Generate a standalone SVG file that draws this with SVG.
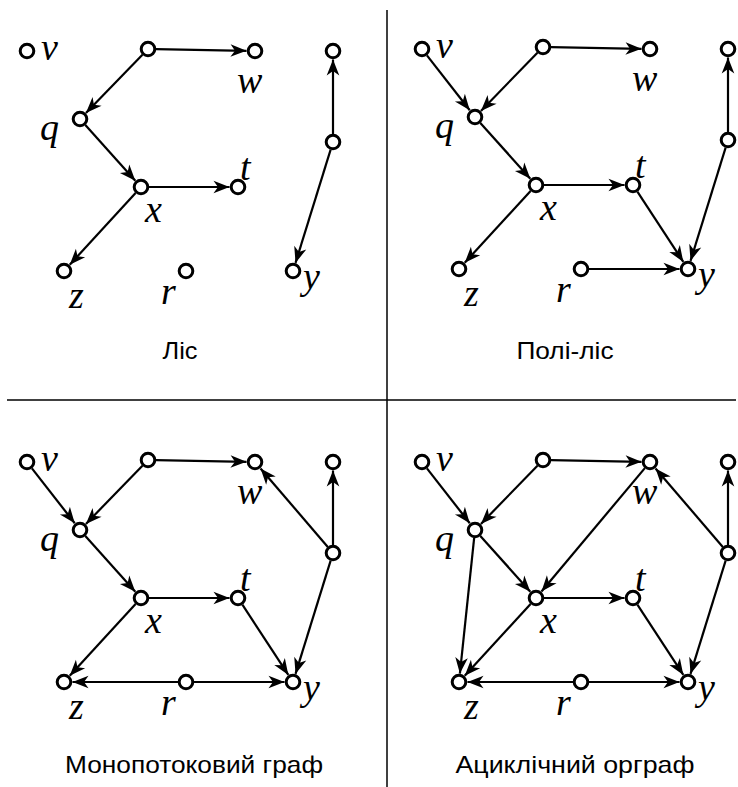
<svg xmlns="http://www.w3.org/2000/svg" width="738" height="787" viewBox="0 0 738 787">
<style>
.n{fill:#fff;stroke:#000;stroke-width:3}
.e line{stroke:#000;stroke-width:2.2;marker-end:url(#ah)}
.l{font-family:"Liberation Serif","Times New Roman",serif;font-style:italic;font-size:38px;fill:#000}
.c{font-family:"Liberation Sans",Arial,sans-serif;font-size:24px;fill:#000;text-anchor:middle}
.d{stroke:#000;stroke-width:1.5}
</style>
<defs>
<marker id="ah" viewBox="-17 -8 18 16" refX="0" refY="0" markerWidth="18" markerHeight="16" markerUnits="userSpaceOnUse" orient="auto">
<path d="M0,0 L-16,-6.3 L-11.5,0 L-16,6.3 Z" fill="#000"/>
</marker>
</defs>
<g id="dividers">
<line class="d" x1="387" y1="10" x2="387" y2="787"/>
<line class="d" x1="7" y1="400" x2="736" y2="400"/>
</g>

<g id="panel1">
<g id="p1-connectors" class="e">
<line x1="156" y1="49.15" x2="246.5" y2="50.84"/>
<line x1="142.43" y1="54.74" x2="85.92" y2="112.9"/>
<line x1="85.34" y1="124.96" x2="135.32" y2="180.67"/>
<line x1="149" y1="187" x2="229.5" y2="187"/>
<line x1="135.59" y1="192.9" x2="69.74" y2="264.73"/>
<line x1="333" y1="134" x2="333" y2="59.5"/>
<line x1="330.63" y1="149.64" x2="295.52" y2="262.88"/>
</g>
<g id="p1-v"><circle class="n" cx="27" cy="51" r="6.8"/><text class="l" x="41" y="60">v</text></g>
<g id="p1-p"><circle class="n" cx="148" cy="49" r="6.8"/></g>
<g id="p1-w"><circle class="n" cx="255" cy="51" r="6.8"/><text class="l" x="237" y="93">w</text></g>
<g id="p1-T"><circle class="n" cx="333" cy="51" r="6.8"/></g>
<g id="p1-q"><circle class="n" cx="80" cy="119" r="6.8"/><text class="l" x="40" y="140">q</text></g>
<g id="p1-M"><circle class="n" cx="333" cy="142" r="6.8"/></g>
<g id="p1-x"><circle class="n" cx="141" cy="187" r="6.8"/><text class="l" x="145" y="222">x</text></g>
<g id="p1-t"><circle class="n" cx="238" cy="187" r="6.8"/><text class="l" x="240" y="180">t</text></g>
<g id="p1-z"><circle class="n" cx="64" cy="271" r="6.8"/><text class="l" x="69" y="308">z</text></g>
<g id="p1-r"><circle class="n" cx="186" cy="271" r="6.8"/><text class="l" x="161" y="304">r</text></g>
<g id="p1-y"><circle class="n" cx="293" cy="271" r="6.8"/><text class="l" x="303" y="289">y</text></g>
</g>

<g id="panel2" transform="translate(395,-2)">
<g id="p2-connectors" class="e">
<line x1="31.92" y1="57.31" x2="74.77" y2="112.3"/>
<line x1="156" y1="49.15" x2="246.5" y2="50.84"/>
<line x1="142.43" y1="54.74" x2="85.92" y2="112.9"/>
<line x1="85.34" y1="124.96" x2="135.32" y2="180.67"/>
<line x1="149" y1="187" x2="229.5" y2="187"/>
<line x1="135.59" y1="192.9" x2="69.74" y2="264.73"/>
<line x1="242.38" y1="193.69" x2="288.34" y2="263.89"/>
<line x1="333" y1="134" x2="333" y2="59.5"/>
<line x1="330.63" y1="149.64" x2="295.52" y2="262.88"/>
<line x1="194" y1="271" x2="284.5" y2="271"/>
</g>
<g id="p2-v"><circle class="n" cx="27" cy="51" r="6.8"/><text class="l" x="41" y="60">v</text></g>
<g id="p2-p"><circle class="n" cx="148" cy="49" r="6.8"/></g>
<g id="p2-w"><circle class="n" cx="255" cy="51" r="6.8"/><text class="l" x="237" y="93">w</text></g>
<g id="p2-T"><circle class="n" cx="333" cy="51" r="6.8"/></g>
<g id="p2-q"><circle class="n" cx="80" cy="119" r="6.8"/><text class="l" x="40" y="140">q</text></g>
<g id="p2-M"><circle class="n" cx="333" cy="142" r="6.8"/></g>
<g id="p2-x"><circle class="n" cx="141" cy="187" r="6.8"/><text class="l" x="145" y="222">x</text></g>
<g id="p2-t"><circle class="n" cx="238" cy="187" r="6.8"/><text class="l" x="240" y="180">t</text></g>
<g id="p2-z"><circle class="n" cx="64" cy="271" r="6.8"/><text class="l" x="69" y="308">z</text></g>
<g id="p2-r"><circle class="n" cx="186" cy="271" r="6.8"/><text class="l" x="161" y="304">r</text></g>
<g id="p2-y"><circle class="n" cx="293" cy="271" r="6.8"/><text class="l" x="303" y="289">y</text></g>
</g>

<g id="panel3" transform="translate(0,411)">
<g id="p3-connectors" class="e">
<line x1="31.92" y1="57.31" x2="74.77" y2="112.3"/>
<line x1="156" y1="49.15" x2="246.5" y2="50.84"/>
<line x1="142.43" y1="54.74" x2="85.92" y2="112.9"/>
<line x1="85.34" y1="124.96" x2="135.32" y2="180.67"/>
<line x1="149" y1="187" x2="229.5" y2="187"/>
<line x1="135.59" y1="192.9" x2="69.74" y2="264.73"/>
<line x1="242.38" y1="193.69" x2="288.34" y2="263.89"/>
<line x1="333" y1="134" x2="333" y2="59.5"/>
<line x1="330.63" y1="149.64" x2="295.52" y2="262.88"/>
<line x1="327.79" y1="135.93" x2="260.53" y2="57.45"/>
<line x1="194" y1="271" x2="284.5" y2="271"/>
<line x1="178" y1="271" x2="72.5" y2="271"/>
</g>
<g id="p3-v"><circle class="n" cx="27" cy="51" r="6.8"/><text class="l" x="41" y="60">v</text></g>
<g id="p3-p"><circle class="n" cx="148" cy="49" r="6.8"/></g>
<g id="p3-w"><circle class="n" cx="255" cy="51" r="6.8"/><text class="l" x="237" y="93">w</text></g>
<g id="p3-T"><circle class="n" cx="333" cy="51" r="6.8"/></g>
<g id="p3-q"><circle class="n" cx="80" cy="119" r="6.8"/><text class="l" x="40" y="140">q</text></g>
<g id="p3-M"><circle class="n" cx="333" cy="142" r="6.8"/></g>
<g id="p3-x"><circle class="n" cx="141" cy="187" r="6.8"/><text class="l" x="145" y="222">x</text></g>
<g id="p3-t"><circle class="n" cx="238" cy="187" r="6.8"/><text class="l" x="240" y="180">t</text></g>
<g id="p3-z"><circle class="n" cx="64" cy="271" r="6.8"/><text class="l" x="69" y="308">z</text></g>
<g id="p3-r"><circle class="n" cx="186" cy="271" r="6.8"/><text class="l" x="161" y="304">r</text></g>
<g id="p3-y"><circle class="n" cx="293" cy="271" r="6.8"/><text class="l" x="303" y="289">y</text></g>
</g>

<g id="panel4" transform="translate(395,411)">
<g id="p4-connectors" class="e">
<line x1="31.92" y1="57.31" x2="74.77" y2="112.3"/>
<line x1="156" y1="49.15" x2="246.5" y2="50.84"/>
<line x1="142.43" y1="54.74" x2="85.92" y2="112.9"/>
<line x1="85.34" y1="124.96" x2="135.32" y2="180.67"/>
<line x1="79.16" y1="126.96" x2="64.89" y2="262.55"/>
<line x1="249.86" y1="57.13" x2="146.46" y2="180.49"/>
<line x1="149" y1="187" x2="229.5" y2="187"/>
<line x1="135.59" y1="192.9" x2="69.74" y2="264.73"/>
<line x1="242.38" y1="193.69" x2="288.34" y2="263.89"/>
<line x1="333" y1="134" x2="333" y2="59.5"/>
<line x1="330.63" y1="149.64" x2="295.52" y2="262.88"/>
<line x1="327.79" y1="135.93" x2="260.53" y2="57.45"/>
<line x1="194" y1="271" x2="284.5" y2="271"/>
<line x1="178" y1="271" x2="72.5" y2="271"/>
</g>
<g id="p4-v"><circle class="n" cx="27" cy="51" r="6.8"/><text class="l" x="41" y="60">v</text></g>
<g id="p4-p"><circle class="n" cx="148" cy="49" r="6.8"/></g>
<g id="p4-w"><circle class="n" cx="255" cy="51" r="6.8"/><text class="l" x="237" y="93">w</text></g>
<g id="p4-T"><circle class="n" cx="333" cy="51" r="6.8"/></g>
<g id="p4-q"><circle class="n" cx="80" cy="119" r="6.8"/><text class="l" x="40" y="140">q</text></g>
<g id="p4-M"><circle class="n" cx="333" cy="142" r="6.8"/></g>
<g id="p4-x"><circle class="n" cx="141" cy="187" r="6.8"/><text class="l" x="145" y="222">x</text></g>
<g id="p4-t"><circle class="n" cx="238" cy="187" r="6.8"/><text class="l" x="240" y="180">t</text></g>
<g id="p4-z"><circle class="n" cx="64" cy="271" r="6.8"/><text class="l" x="69" y="308">z</text></g>
<g id="p4-r"><circle class="n" cx="186" cy="271" r="6.8"/><text class="l" x="161" y="304">r</text></g>
<g id="p4-y"><circle class="n" cx="293" cy="271" r="6.8"/><text class="l" x="303" y="289">y</text></g>
</g>

<g id="captions">
<text class="c" x="180" y="359" textLength="35" lengthAdjust="spacingAndGlyphs">Ліс</text>
<text class="c" x="565" y="359" textLength="97" lengthAdjust="spacingAndGlyphs">Полі-ліс</text>
<text class="c" x="194" y="773" textLength="258" lengthAdjust="spacingAndGlyphs">Монопотоковий граф</text>
<text class="c" x="575" y="773" textLength="239" lengthAdjust="spacingAndGlyphs">Ациклічний орграф</text>
</g>
</svg>
